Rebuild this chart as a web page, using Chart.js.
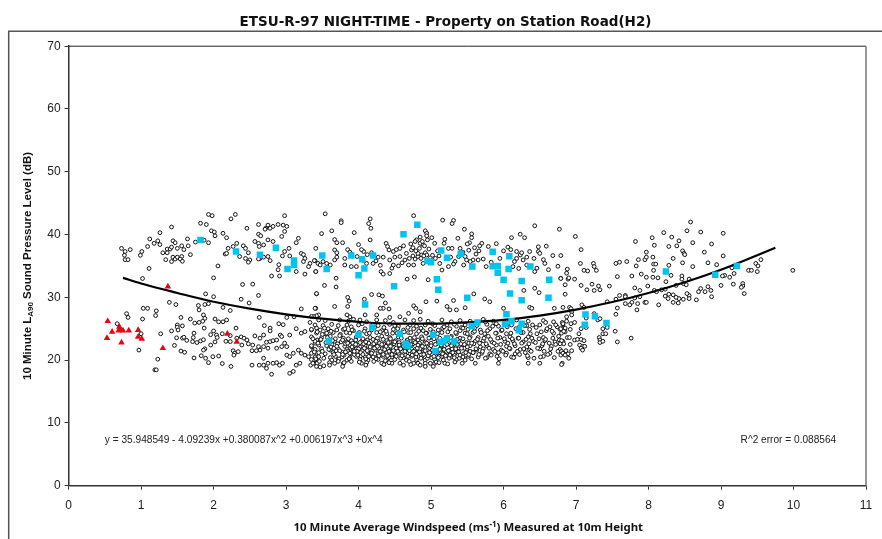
<!DOCTYPE html>
<html>
<head>
<meta charset="utf-8">
<title>ETSU-R-97 Night-time</title>
<script src="https://cdn.jsdelivr.net/npm/chart.js@4"></script>
<style>
  html, body { margin: 0; padding: 0; background: #fff; }
  canvas { display: block; }
</style>
</head>
<body>
<canvas id="nightChart" width="882" height="539"></canvas>
<script>
// ETSU-R-97 night-time scatter - values as [windspeed, level]

const chartTitle = 'ETSU-R-97 NIGHT-TIME - Property on Station Road(H2)';
const fitEquation = 'y = 35.948549 - 4.09239x +0.380087x^2 +0.006197x^3 +0x^4';
const fitError = 'R^2 error = 0.088564';
const xTicks = [0, 1, 2, 3, 4, 5, 6, 7, 8, 9, 10, 11];
const yTicks = [0, 10, 20, 30, 40, 50, 60, 70];

// Upper band, left part
const upperLeftPoints = [
  [.73,37.8],[.78,37.3],[.85,37.6],[.77,36.7],[.78,36],[.82,36],[.99,36.7],[1.01,37.3],[1.09,38.1],[1.12,39.3],
  [1.18,38.6],[1.23,39],[1.26,40.3],[1.26,38.4],[1.42,41.2],[1.3,37.1],[1.36,37.7],[1.4,37.7],[1.36,37.1],[1.42,38],
  [1.44,39],[1.47,38.7],[1.5,37.8],[1.44,36.4],[1.34,36],[1.42,35.7],[1.47,36.1],[1.5,36.4],[1.56,36.5],[1.54,36.1],
  [1.57,35.75],[1.56,38.2],[1.59,37.6],[1.65,38.2],[1.64,39.3],[1.68,36.8],[1.75,38.8],[1.82,41.8],[1.9,41.6],[1.93,43.2],
  [1.98,43],[1.87,39.1],[1.93,38.7],[1.97,40.6],[2.01,40.4],[2.13,40.2],[2.18,39.5],[2.02,39.8],[2.2,37.8],[2.32,38.6],
  [2.16,36.9],[2.18,37],[2.27,38.1],[2.41,38.2],[2.44,37.8],[2.36,36.5],[2.44,36.2],[2.48,37.1],[2.5,35.96],[2.46,41],
  [2.24,42.5],[2.3,43.2],[2.62,41.6],[2.57,38.9],[2.62,40.05],[2.65,39.8],[2.62,38.6],[2.63,38.1],[2.69,38.35],[2.75,41.5],
  [2.72,41],[2.71,40.85],[2.78,41],[2.82,41.3],[2.89,41.6],[2.96,41.5],[3.01,41.3],[2.98,43],[2.98,40.5],[2.94,39.7],
  [2.75,39.15],[2.82,38.9],[3.17,39.4],[3.14,38.7],[3.04,37.8],[2.98,37.3],[2.95,36.6],[3.05,36.6],[3.21,37],[3.24,36.8],
  [3.26,36.2],[3.24,35.7],[3.33,35.4],[3.31,34.9],[3.4,35.85],[3.44,35.4],[2.9,35.2],[2.89,34.4],[2.8,33.4],[2.91,33.4],
  [3.14,34.1],[3.26,33.7],[3.41,34.1],[2.64,36.2],[2.69,36.4],[2.62,36.1],[2.75,36.5],[2.78,35.85],[2.48,35.6],[2.06,35],
  [2,33.1],[1.11,34.6],[1.02,33]
];

// Lower band, left part
const lowerLeftPoints = [
  [2.4,32.05],[2.54,32.1],[1.89,30.55],[2,30.1],[2.38,29.7],[2.62,30.3],[2.49,29.1],[2.13,28.4],[2.23,27.9],[1.39,29.2],
  [1.48,28.85],[1.79,28.7],[1.88,28.85],[1.93,29],[1.8,28],[1.03,28.25],[1.09,28.25],[1.21,27.85],[1.2,27.1],[.8,27.4],
  [.82,26.8],[1.02,26.55],[1.55,26.8],[1.68,26.55],[1.74,25.9],[1.8,26],[1.86,27.2],[1.88,26.65],[1.85,26.2],[2.02,26.55],
  [2.07,26.1],[2.13,26.1],[2.18,26.4],[2.63,26.8],[3.21,28.15],[3.41,28.25],[3.01,26.8],[3.11,26.9],[3.33,26],[3.42,30.55],
  [3.45,27.2],[.67,25.8],[1.5,25.6],[1.5,25.25],[1.57,25.45],[1.51,24.8],[1.42,24.65],[1.87,25.1],[2.31,25.1],[2.7,25.5],
  [2.78,25.1],[2.78,24.65],[2.9,25.8],[2.96,25.65],[2.92,24],[1.27,24.2],[1.73,24.3],[1,24.2],[1.49,23.55],[1.57,23.5],
  [1.59,23.65],[1.63,23.15],[1.72,23.6],[1.71,22.95],[1.77,22.8],[1.82,23.05],[1.86,23.25],[1.96,24.05],[2,24.65],[2.04,24],
  [2.05,23.6],[2.12,24.2],[2.23,23.9],[2.23,22.95],[2.17,23],[2.02,22.9],[1.96,22.4],[2.38,23.7],[2.42,23.5],[2.46,23.2],
  [2.32,23.5],[2.48,22.6],[2.54,22.4],[2.57,23.85],[2.64,23.5],[2.69,24],[2.73,22.85],[2.78,22.95],[2.82,23.1],[2.87,23.2],
  [2.94,23.75],[2.98,22.7],[3.05,24],[3.14,25],[3.21,24.3],[3.26,24.55],[3.35,24.8],[3.42,25.1],[.97,21.6],[1.46,22.35],
  [1.55,21.45],[1.6,21.25],[1.88,21.8],[1.86,21.6],[1.83,20.7],[1.89,20.3],[1.93,19.6],[1.73,20.35],[1.99,20.55],[2.07,20.65],
  [2.12,19.45],[2.24,19],[2.27,21.5],[2.29,21.1],[2.34,21.35],[2.28,20.8],[2.53,21.5],[2.53,19.2],[2.62,22.15],[2.64,21.6],
  [2.69,20.3],[2.63,19.2],[2.69,19.2],[2.75,19.5],[2.8,17.75],[2.73,18.7],[2.87,19.6],[2.91,19.2],[2.95,19.5],[2.82,19.5],
  [3.01,20.8],[3.05,20.55],[3.1,21.1],[3.17,21.6],[3.21,21.1],[3.26,20.8],[3.31,20.55],[3.35,22.15],[3.4,22.7],[3.43,23.2],
  [3.38,21.6],[3.42,21.1],[3.4,19.5],[3.45,20.55],[3.34,19.2],[3.19,19.5],[3.1,18.2],[3.05,17.9],[3.14,19.2],[1.23,20.15],
  [1.19,18.45],[1.21,18.45],[2.75,21.9],[2.87,21.9],[2.94,22.15],[3.01,22.15],[2.59,21.5],[2.39,22.4],[2.69,22.15]
];

// Upper band, middle part
const upperMiddlePoints = [
  [3.54,43.3],[3.76,42.2],[3.76,41.9],[3.63,40.6],[3.49,40.15],[3.94,40.3],[4.16,42.5],[4.14,41.75],[4.17,41],[4.16,39.15],
  [3.67,39.2],[3.7,38.7],[3.78,38.7],[4,38.4],[3.41,37.8],[3.67,37.55],[3.7,37.1],[3.85,37.6],[3.88,37.2],[4.07,37.3],
  [4.76,43],[5.16,42.3],[5.31,42.25],[5.29,41.75],[5.46,40.85],[5.56,40.1],[5.56,39.5],[5.53,38.7],[5.5,38.5],[5.37,39.4],
  [5.19,39.25],[5.18,38.6],[4.92,40.6],[4.94,40.2],[4.94,39.8],[4.85,39.6],[4.8,39.15],[4.85,38.6],[4.78,38.9],[5.01,39.5],
  [4.95,39.15],[6.11,39.5],[6.23,40.05],[6.29,39.5],[6.43,41.4],[6.77,40.85],[6.59,38.15],[6.48,38.05],[5.9,38.55],[5.79,38.1],
  [5.7,38.6],[5.67,38.2],[4.38,38.6],[4.4,38.1],[4.42,37.55],[4.48,37.3],[4.57,37.8],[4.62,38.2],[4.73,37.55],[4.89,38.35],
  [4.92,37.1],[4.87,36.75],[4.82,36.5],[4.94,36.75],[4.82,37],[5.05,38.6],[5.24,37.8],[5.29,37.8],[5.38,36.5],[5.47,36.5],
  [5.49,35.95],[6.18,37.3],[6.23,36.75],[6.18,36.2],[6.27,35.95],[6.36,37.3],[6.48,37.3],[6.5,37],[6.32,35.15],[6.68,36.65],
  [6.79,36.65],[6.57,35.4],[6.75,34.95],[6.46,34.65],[6.43,34.1],[6.13,34.9],[5.76,34.9],[5.65,35.95],[5.58,35.95],[5.54,35.7],
  [5.45,35.15],[5.33,35.7],[5.24,34.9],[5.12,35.4],[5.15,34.35],[4.89,35.4],[4.76,35.15],[4.69,35.15],[4.64,35.95],[4.57,36.5],
  [4.5,36.4],[4.43,35.95],[4.34,36.4],[4.27,36.4],[4.2,35.4],[4.11,35.4],[3.97,34.9],[3.9,34.9],[3.81,35.15],[3.81,36.2],
  [3.7,36.4],[3.56,35.4],[3.51,35.7],[3.47,35.15],[3.39,35.85],[3.41,34.1],[3.61,35.15],[3.67,35.95],[4.31,34.1],[4.34,33.7],
  [4.43,33.8],[4.46,34.65],[4.48,35.15],[4.96,32.8],[4.67,32.9],[4.77,33.25],[3.69,33.05],[3.53,31.9],[3.69,31.65],[3.42,30.6],
  [3.85,30],[3.87,29.4],[3.85,28.55],[3.67,28.55],[3.4,28.25],[4.18,30.45],[4.28,30.4],[4.33,30.2],[4.37,29.1],[4.34,28.25],
  [4.42,28.15],[4.3,28.25],[4.08,29.7],[5.08,29.4],[4.93,29.3],[5.31,29.5],[5.59,30.55],[5.74,29.75],[5.81,29.3],[6.28,31.1],
  [6.43,31.45],[6.49,30.75],[6.36,28.4],[6.39,28.25],[6.7,28.25],[6.91,28.4],[6.79,33.05],[6.89,32.9],[6.87,33.85],[6,28.25],
  [5.22,28.55],[5.26,28],[5.35,28],[5.47,28.35],[4.76,28.65],[4.79,28.25],[4.85,27.7],[4.69,27.45],[4.57,26.9],[4.43,26.8],
  [4.25,27.2],[4.09,27.2],[3.88,26.9],[3.84,27.2],[3.42,27.05],[3.38,26.95],[3.35,26.95],
  [4.72,38.5],[4.75,37.9],[4.79,37.4],[4.84,37.8],[4.88,38.9],[4.91,38.2],[4.97,37.7],[4.99,36.3],[4.86,36.2],[4.9,36.6],[4.96,35.9],[5.02,36.7],
  [5.06,36.2],[5.09,37.4],[5.11,36.6],[4.78,36.1],[4.75,36.6],[4.7,36.2],[4.66,37],[4.6,35.5],[4.55,35],[4.52,37.6],[5.27,36.4],[5.31,35.3],
  [5.62,36.9],[5.72,36.1],[5.83,35.6],[5.95,36.2],[6,37.4],[6.06,38],[6.1,37.6],[6.15,35.7],[6.21,34.6],[6.25,37.1],[6.32,36.4],[6.42,36.2],[6.55,36],[6.62,34.4],
  [3.9,36.9],[3.98,36.5],[4.04,37.6],[4.12,36.8],[4.18,37.1],[4.24,35.8],[4.3,35.1],[4.06,35.9],[5.4,37.8],[5.44,37.2],[5.52,37.5],[5.6,37.9],[5.66,37.4]
];

// Dense lower band under the fit line
const denseBandPoints = [
  [3.45,26.4],[3.54,26.3],[3.74,26.4],[3.86,26.2],[3.93,26.5],[4.02,26.4],[4.11,26.1],[4.25,26.4],[4.37,26.3],[4.48,26],[4.64,26.4],[4.76,26.3],[4.85,26.5],[4.96,26.2],[5.15,26.4],[5.28,26.1],[5.4,26.3],[5.54,26.2],[5.72,26.5],[5.86,26.2],[6.18,26.4],[6.34,26.2],[6.55,26.3],[6.69,26.1],[6.87,26.2],
  [3.4,25.6],[3.51,25.5],[3.63,25.7],[3.72,25.5],[3.84,25.6],[3.9,25.3],[4,25.6],[4.27,25.5],[4.43,25.7],[4.55,25.4],[4.71,25.6],[4.8,25.4],[4.92,25.6],[5.05,25.5],[5.22,25.6],[5.35,25.4],[5.47,25.6],[5.63,25.5],[5.77,25.7],[5.93,25.4],[6.11,25.6],[6.32,25.5],[6.5,25.6],[6.64,25.3],[6.82,25.6],
  [3.35,24.9],[3.47,24.8],[3.58,25],[3.7,24.8],[3.79,24.9],[3.93,24.7],[4.09,25],[4.18,24.8],[4.32,24.7],[4.48,24.9],[4.62,24.8],[4.76,25],[4.89,24.7],[4.99,24.9],[5.1,24.8],[5.26,25],[5.4,24.7],[5.51,24.9],[5.68,24.8],[5.81,25],[5.97,24.7],[6.36,24.9],[6.59,24.7],[6.78,24.9],
  [3.42,24.3],[3.54,24.2],[3.65,24.4],[3.88,24.3],[4.11,24.2],[4.25,24.4],[4.39,24.2],[4.53,24.3],[4.69,24.4],[4.8,24.2],[4.94,24.3],[5.15,24.4],[5.35,24.2],[5.47,24.3],[5.58,24.4],[5.74,24.2],[5.9,24.3],[6.04,24.2],[6.27,24.4],[6.46,24.2],[6.69,24.3],
  [3.35,23.7],[3.49,23.6],[3.61,23.8],[3.79,23.5],[3.97,23.7],[4.16,23.6],[4.32,23.8],[4.43,23.6],[4.55,23.7],[4.71,23.5],[4.87,23.7],[4.99,23.6],[5.28,23.8],[5.4,23.5],[5.54,23.7],[5.65,23.6],[5.79,23.8],[5.95,23.6],[6.09,23.7],[6.2,23.5],[6.34,23.7],[6.55,23.6],[6.76,23.8],
  [3.4,23],[3.47,23.2],[3.67,23],[3.84,22.9],[3.9,23.1],[4.04,23],[4.11,22.8],[4.27,23],[4.39,23.1],[4.48,22.9],[4.76,23],[4.82,23.2],[4.92,22.9],[5.1,23.1],[5.38,23],[5.49,22.8],[5.61,23],[5.72,23.1],[5.84,22.9],[6.02,23],[6.13,23.1],[6.27,22.9],[6.41,23],[6.57,23.1],[6.71,22.9],[6.82,23],
  [3.35,22.3],[3.45,22.4],[3.56,22.3],[3.81,22.2],[3.88,22.4],[3.95,22.3],[4.02,22.1],[4.09,22.3],[4.18,22.4],[4.25,22.2],[4.36,22.3],[4.46,22.4],[4.57,22.2],[4.73,22.3],[4.85,22.4],[4.96,22.1],[5.19,22.3],[5.31,22.4],[5.45,22.2],[5.54,22.3],[5.68,22.1],[5.77,22.3],[5.9,22.4],[6.04,22.2],[6.16,22.3],[6.32,22.1],[6.53,22.3],[6.66,22.2],
  [3.4,21.7],[3.49,21.8],[3.61,21.6],[3.72,21.8],[3.84,21.7],[3.93,21.6],[4,21.8],[4.11,21.7],[4.23,21.6],[4.32,21.8],[4.43,21.7],[4.53,21.6],[4.64,21.8],[4.78,21.7],[4.89,21.6],[4.99,21.8],[5.15,21.7],[5.26,21.6],[5.38,21.8],[5.49,21.7],[5.63,21.6],[5.72,21.8],[5.86,21.7],[5.97,21.6],[6.09,21.8],[6.23,21.7],[6.36,21.6],[6.5,21.8],[6.78,21.7],
  [3.35,21.1],[3.45,21.2],[3.54,21],[3.65,21.2],[3.79,21.1],[3.9,21],[4,21.2],[4.16,21.1],[4.27,21],[4.39,21.2],[4.55,21.1],[4.71,21],[4.82,21.2],[4.94,21.1],[5.1,21],[5.22,21.2],[5.33,21.1],[5.45,21],[5.58,21.2],[5.7,21.1],[5.81,21],[5.93,21.2],[6.04,21.1],[6.16,21],[6.3,21.2],[6.64,21.1],[6.89,21],
  [3.4,20.5],[3.61,20.4],[3.68,20.6],[3.77,20.5],[3.88,20.4],[3.97,20.6],[4.09,20.5],[4.23,20.4],[4.34,20.6],[4.46,20.5],[4.62,20.4],[4.73,20.6],[4.87,20.5],[5.01,20.4],[5.15,20.6],[5.28,20.5],[5.4,20.4],[5.51,20.6],[5.65,20.5],[5.77,20.4],[5.91,20.6],[6.11,20.5],[6.34,20.4],[6.55,20.6],
  [3.35,20.1],[3.63,20],[3.72,20.1],[3.84,20],[4.02,20.1],[4.13,20],[4.27,20.1],[4.39,20],[4.5,20.1],[4.66,20],[4.8,20.1],[4.92,20],[5.05,20.1],[5.17,20],[5.35,20.1],[5.47,20],
  [3.37,19.5],[3.43,19.5],[3.67,19.5],[3.79,19.5],[4.04,19.5],[4.32,19.5],[4.46,19.5],[4.57,19.5],[4.76,19.5],[4.82,19.5],[4.92,19.5],[5.05,19.5],[5.19,19.5],[5.61,19.5],[5.93,19.5],[6.34,19.5],[6.5,19.5],[6.81,19.5],
  [3.42,19],[4.92,19],[5.03,19]
];

// Second pass over the dense band, the darkest part of the cloud
const denseBandExtra = [
  [3.37,23.4],[3.39,21.3],[3.41,20.2],[3.43,24.5],[3.44,22.7],[3.46,19.8],[3.48,23.3],[3.5,21.4],[3.52,20.3],[3.53,25.1],[3.55,22.8],[3.57,23.6],[3.59,21.7],[3.6,19.6],[3.62,24.6],[3.63,22.5],
  [3.66,20.9],[3.68,23.4],[3.69,21.5],[3.71,22.6],[3.73,20.2],[3.75,24.1],[3.76,22.9],[3.77,21.3],[3.78,23.2],[3.8,20.8],[3.82,22.6],[3.83,24.4],[3.85,21.4],[3.86,23.4],[3.87,20.2],[3.89,21.9],
  [3.91,24.8],[3.92,22.7],[3.94,20.9],[3.96,23.2],[3.98,21.4],[3.99,22.5],[4.01,24.4],[4.03,20.7],[4.05,21.5],[4.06,23.4],[4.07,22.6],[4.08,24.6],[4.1,20.2],[4.12,23.2],[4.13,21.3],[4.14,22.7],
  [4.15,24.3],[4.17,20.8],[4.19,21.4],[4.2,23.3],[4.21,22.6],[4.22,25.2],[4.24,20.2],[4.26,23.5],[4.28,21.9],[4.29,22.7],[4.3,24.5],[4.31,20.8],[4.33,21.3],[4.34,23.3],[4.35,22.5],[4.37,19.9],
  [4.38,24.6],[4.4,21.9],[4.41,22.8],[4.42,20.4],[4.44,23.4],[4.45,21.4],[4.47,24.3],[4.49,22.6],[4.5,20.8],[4.51,23.1],[4.52,21.9],[4.54,25],[4.56,22.8],[4.58,20.3],[4.59,23.5],[4.6,21.4],
  [4.61,22.5],[4.63,24.5],[4.65,20.8],[4.67,23.2],[4.68,21.9],[4.69,22.7],[4.7,19.8],[4.72,24.4],[4.74,21.3],[4.75,22.6],[4.77,23.6],[4.79,20.5],[4.81,21.9],[4.83,24.6],[4.84,22.7],[4.86,20.9],
  [4.88,23.4],[4.9,21.4],[4.91,22.6],[4.93,24.3],[4.95,20.3],[4.97,23.5],[4.98,21.9],[5,22.7],[5.02,20.9],[5.03,24.5],[5.04,23.4],[5.06,21.4],[5.07,19.7],[5.08,22.6],[5.09,24.2],[5.11,20.6],
  [5.12,23.5],[5.13,21.9],[5.14,22.7],[5.16,25.1],[5.18,20.9],[5.2,23.3],[5.21,21.4],[5.23,24.5],[5.24,22.7],[5.25,20.3],[5.27,23.6],[5.29,21.8],[5.3,22.6],[5.32,20.8],[5.34,24.4],[5.36,23.3],
  [5.37,21.4],[5.39,20.3],[5.41,22.6],[5.42,25.2],[5.44,23.4],[5.46,21.9],[5.48,20.8],[5.5,24.2],[5.52,22.7],[5.53,23.5],[5.55,21.3],[5.56,20.2],[5.57,25.6],[5.59,22.6],[5.6,24.6],[5.62,21.8],
  [5.64,23.3],[5.66,20.9],[5.67,22.7],[5.69,24.4],[5.71,21.4],[5.73,23.5],[5.75,20.3],[5.76,22.6],[5.78,24.7],[5.8,21.9],[5.82,23.3],[5.83,20.8],[5.85,25.4],[5.87,22.7],[5.88,21.4],[5.89,24.3],
  [5.92,23.5],[5.94,20.2],[5.96,22.5],[5.98,24.8],[5.99,21.4],[6.01,23.4],[6.03,20.8],[6.05,25.3],[6.06,22.7],[6.08,21.9],[6.1,24.3],[6.12,23.4],[6.14,20.4],[6.15,22.6],[6.17,25],[6.19,21.4],
  [6.21,23.5],[6.22,20.9],[6.24,24.4],[6.25,22.7],[6.28,21.8],[6.29,25.5],[6.31,23.3],[6.33,20.7],[6.35,22.6],[6.37,24.2],[6.38,21.4],[6.39,23.5],[6.42,20.3],[6.44,22.8],[6.45,25.2],[6.47,21.9],
  [6.49,23.4],[6.51,20.5],[6.52,24.5],[6.54,22.6],[6.56,21.4],[6.58,23.3],[6.6,25],[6.61,20.9],[6.63,22.7],[6.65,21.8],[6.67,24.6],[6.68,23.5],[6.7,20.4],[6.72,22.5],[6.74,25.3],[6.75,21.4],
  [6.77,23.2],[6.79,20.8],[6.8,24.3],[6.83,22.6],[6.84,25],[6.86,21.5],[6.88,23.6],[3.5,24.1],[3.56,24.3],[3.64,23.1],[3.74,23.9],[3.81,25],[4.05,25.8],[4.2,25.7],[4.35,25.2],[4.5,25.5],
  [4.68,25.2],[4.86,25.1],[5.02,25.8],[5.18,25.3],[5.32,25.7],[5.44,25.1],[5.6,25.1],[5.75,26.1],[5.9,25.8],[6.07,26],[6.22,25.3],[6.4,25.6],[6.58,26],[6.72,25.6],[6.85,24.5],[6.92,24.9]
];

// Third pass, the black core between 3.6 and 5.6 m/s
const denseCorePoints = [
  [3.62,22.1],[3.66,21.9],[3.7,22.2],[3.74,21.5],[3.78,20.9],[3.82,21.3],[3.85,22.7],[3.88,21.1],[3.91,22.1],[3.94,21.4],[3.96,22.5],[3.99,20.8],[4.02,22.8],[4.03,21.2],[4.06,20.9],[4.08,21.9],
  [4.1,22.9],[4.12,21.5],[4.14,20.6],[4.16,22.1],[4.18,21.1],[4.2,20.5],[4.22,21.9],[4.24,23],[4.26,22.2],[4.28,20.7],[4.3,21.4],[4.32,22.5],[4.34,20.9],[4.36,21.7],[4.38,22.2],[4.4,20.7],
  [4.42,21.4],[4.44,22.2],[4.46,20.9],[4.48,21.5],[4.5,22.9],[4.52,20.6],[4.54,21.4],[4.56,22.4],[4.58,21.8],[4.6,20.7],[4.62,22.2],[4.64,21.4],[4.66,22.9],[4.68,20.6],[4.7,21.5],[4.72,22.5],
  [4.74,20.8],[4.76,21.4],[4.78,22.8],[4.8,21],[4.82,22.4],[4.84,21.3],[4.86,20.3],[4.88,22.2],[4.9,20.9],[4.92,21.5],[4.94,22.7],[4.96,20.7],[4.98,21.2],[5,22.3],[5.02,21.6],[5.04,20.6],
  [5.06,22.5],[5.08,21.2],[5.1,20.4],[5.12,21.7],[5.14,22.4],[5.16,21],[5.18,21.7],[5.2,20.7],[5.22,22.5],[5.24,21.5],[5.26,20.8],[5.28,22.3],[5.3,21.2],[5.32,20.4],[5.34,21.8],[5.36,22.5],
  [5.38,21.3],[5.4,20.8],[5.42,21.9],[5.44,20.5],[5.46,22.5],[5.48,21.2],[5.5,22.1],[5.52,20.9],[5.54,21.4],[5.56,22.7],[5.58,21.2],[3.72,19.8],[3.8,19.6],[3.9,19.8],[4.01,19.7],[4.11,19.6],
  [4.21,19.8],[4.35,19.3],[4.42,19.6],[4.62,19.2],[4.72,19.3],[4.85,19.2],[4.99,19.5],[5.11,19.6],[5.23,19.4],[5.33,19.7],[5.43,19.5],[3.6,19.2],[3.78,19],[4.1,19.2],[3.47,18.9],[3.52,19.1]
];

// Right hand part, above 6.8 m/s
const rightPoints = [
  [6.99,39.7],[7.07,37.6],[7.06,35.4],[7.24,35.4],[7.25,34.9],[6.88,34.5],[7.11,34.3],[7.16,34.2],[7.28,34.3],[6.9,33.1],[6.98,32.9],[6.79,33],[7.57,33.3],[7.55,35.4],[7.6,35.6],[7.7,35.7],[7.82,38.9],[8.05,39.5],
  [8.21,40.3],[8.32,39.6],[8.53,40.6],[8.58,42],[8.72,40.4],[9.03,40.2],[8.08,38.3],[8.28,38.1],[8.39,38.2],[8.42,39],[8.61,38.7],[8.87,38.5],[7.97,37.2],[8.06,36.4],[7.86,36],[7.95,36],[7.97,36.4],[8.47,37.4],[8.49,37],[8.5,36.8],[8.77,37.2],[9.03,36.6],[8.34,36.2],[8.47,35.5],[8.82,35.5],[8.94,35.2],
  [7.83,35],[8.07,35.3],[8.1,35.3],[8.28,35.1],[8.61,34.9],[8.07,34.3],[7.9,33.7],[7.77,33.4],[7.97,33.2],[8.06,33.2],[8.13,33.1],[8.31,33.5],[8.46,33.4],[8.46,32.9],[8.56,32.9],[8.24,32.5],[8.48,32.2],[8.52,32],
  [9.15,34.7],[9.18,33.8],[9.48,35.4],[9.55,36],[9.51,35],[9.38,34.3],[9.42,34.3],[9.5,34.1],[9.99,34.3],[9.12,33.2],[9.05,33.5],[9.02,33.4],[9.17,32.1],[9.3,32.2],[9.3,31.8],[9.28,31.6],[9.32,30.6],[9,31.9],[8.82,31.7],[8.72,31.4],[8.69,30.9],[8.78,30.9],[8.86,31.1],[8.87,30.1],
  [8.66,29.6],[8.56,30.3],[8.53,30.6],[8.56,29.8],[8.48,29.7],[8.42,29.8],[8.41,29.1],[8.34,29.2],[8.38,30],[8.34,30.4],[8.28,30.5],[8.23,30.2],[8.27,29.8],[8.14,28.8],[7.95,29.2],[7.97,29.2],[7.85,29],[7.77,29.2],[7.74,28.8],[7.68,29],[7.84,28],[7.88,30.1],[7.81,29.9],[7.68,30.3],
  [7.68,30.1],[7.6,30.3],[7.55,29.7],[7.43,29.3],[7.81,31.5],[7.88,31.1],[7.99,31.8],[8.08,31.1],[8.11,30.9],[8.18,31.2],[8.23,31.3],[8.38,31.9],[7.22,32.1],[7.07,31.9],[6.85,32],[7.15,31.2],[7.25,31.1],[7.31,31.8],[7.33,31.2],[7.46,31.8],[6.85,30.5],[7.08,28.8],[7.11,28.4],[6.82,28.4],
  [6.93,28.2],[6.94,27.7],[6.87,26.9],[6.94,27.2],[7.57,28.3],[7.55,27.3],[7.25,27.4],[7.3,26.4],[7.33,26.6],[7.14,26.7],[6.98,26],[6.93,25.8],[6.81,26],[6.82,25.8],[6.85,25.1],[6.79,25],[6.83,24.6],[7.07,25],[7.14,25.2],[7.43,25.2],[7.37,25],[7.37,24.2],[7.41,24.2],
  [7.54,24.6],[7.04,24.2],[7.32,23.6],[7.33,23.2],[7.33,22.8],[7.37,23],[7.57,22.9],[7.76,23.5],[6.91,23.6],[6.98,23.2],[7.02,23.3],[7.07,23.3],[7.11,23.1],[6.8,23.1],[6.78,22.6],[6.92,22.5],[7.05,22.4],[7.09,22.2],[7.12,22.2],[7.07,21.9],[7.09,21.6],[6.94,21.5],[6.8,21.4],[6.82,21.1],[6.85,20.8],[6.9,20.3],[6.8,19.3]
];

const redTriangles = [
  [.54,26.2],[.6,24.5],[.53,23.5],[.7,25.3],[.71,24.9],[.69,24.7],[.75,24.7],[.83,24.7],[.73,22.8],[.96,24.8],[.96,23.7],[1.01,23.4],[1.3,21.9],[1.37,31.7],[2.19,24.2],[2.32,22.9]
];

const cyanSquares = [
  [1.82,39.15],[2.31,37.3],[2.64,36.8],[2.86,37.9],[3.11,35.85],[3.11,35.15],[3.02,34.5],
  [3.5,36.65],[3.56,34.5],[3.9,36.65],[4.05,36.05],[4.2,36.65],[4.08,34.6],[4,33.5],[4.62,40.05],[4.81,41.55],[5.14,37.45],[4.95,35.8],[5,35.6],[5.22,36.3],[5.41,36.95],[5.85,37.25],[6.08,36.55],[5.57,34.9],[5.85,34.95],[5.92,35],[6.07,34.5],[6.37,34.9],[5.92,33.9],[5.08,32.9],[6,32.8],[6.25,32.6],[6.63,32.8],[4.49,31.75],[5.1,31.2],[6.09,30.6],[5.5,29.95],[6.25,29.55],[6.62,29.95],[4.09,28.85],[6.04,27.3],[5.64,26],[5.56,25.45],[6.11,26.2],[6.02,25.7],[6.25,25.8],[6.21,24.75],[4.19,25.2],[4,24.05],[4.57,24.2],[5.03,24.05],[3.59,23.05],[4.65,22.6],[4.68,22.25],[5.13,22.9],[5.18,23.05],[5.22,23.5],[5.32,22.95],[5.06,21.45],
  [7.13,27.25],[7.26,27],[7.42,25.9],[7.12,25.65],[8.24,34.1],[8.92,33.6],[9.22,35]
];

const fitX = [.75, 1, 1.5, 2, 2.5, 3, 3.5, 4, 4.5, 5, 5.5, 6, 6.5, 7, 7.5, 8, 8.5, 9, 9.5, 9.75];
const fitY = [33.1, 32.2, 30.7, 29.3, 28.2, 27.3, 26.6, 26.1, 25.8, 25.8, 26, 26.4, 27.1, 28.05, 29.25, 30.7, 32.4, 34.4, 36.7, 37.9];

const openPoints = [upperLeftPoints, lowerLeftPoints, upperMiddlePoints, denseBandPoints, denseBandExtra, denseCorePoints, rightPoints].flat();

function toXY(pairs) {
    return pairs.map(p => ({ x: p[0], y: p[1] }));
}

// Draws a run of text pieces, some of them lowered or raised, centred on 0,0
function drawRuns(ctx, runs) {
    let total = 0;
    runs.forEach(r => {
        ctx.font = r.font;
        total += ctx.measureText(r.text).width;
    });
    let pos = -total / 2;
    runs.forEach(r => {
        ctx.font = r.font;
        ctx.fillText(r.text, pos, r.shift || 0);
        pos += ctx.measureText(r.text).width;
    });
}

const framePlugin = {
    id: 'frame',
    beforeDatasetsDraw(chart) {
        const ctx = chart.ctx;
        const a = chart.chartArea;
        ctx.save();
        // page frame, runs off the picture
        ctx.strokeStyle = '#555';
        ctx.lineWidth = 1.5;
        ctx.beginPath();
        ctx.moveTo(8.7, 539);
        ctx.lineTo(8.7, 31.2);
        ctx.lineTo(882, 31.2);
        ctx.stroke();
        // top and right of the plot box
        ctx.strokeStyle = '#222';
        ctx.lineWidth = 1;
        ctx.beginPath();
        ctx.moveTo(a.left, a.top);
        ctx.lineTo(a.right, a.top);
        ctx.stroke();
        ctx.strokeStyle = '#777';
        ctx.lineWidth = 1.5;
        ctx.beginPath();
        ctx.moveTo(a.right, a.top);
        ctx.lineTo(a.right, a.bottom);
        ctx.stroke();
        ctx.restore();
    },
    afterDraw(chart) {
        const ctx = chart.ctx;
        const a = chart.chartArea;
        const xs = chart.scales.x;
        const ys = chart.scales.y;
        const bold = 'bold 11.4px "Noto Sans"';
        const small = 'bold 8px "Noto Sans"';
        ctx.save();
        ctx.fillStyle = '#111';
        ctx.textAlign = 'left';
        ctx.textBaseline = 'alphabetic';

        // Axis titles
        ctx.save();
        ctx.translate((a.left + a.right) / 2 + 1, 531);
        drawRuns(ctx, [
            { text: '10 Minute Average Windspeed (ms', font: bold },
            { text: '-1', font: small, shift: -4 },
            { text: ') Measured at 10m Height', font: bold }
        ]);
        ctx.restore();

        ctx.save();
        ctx.translate(31, (a.top + a.bottom) / 2);
        ctx.rotate(-Math.PI / 2);
        const yBold = 'bold 11.5px "Liberation Sans"';
        drawRuns(ctx, [
            { text: '10 Minute L', font: yBold },
            { text: 'A90', font: 'bold 8px "Liberation Sans"', shift: 2 },
            { text: ' Sound Pressure Level (dB)', font: yBold }
        ]);
        ctx.restore();

        // Fit annotations sit in data space
        ctx.font = '10.15px "Liberation Sans"';
        ctx.fillStyle = '#222';
        ctx.fillText(fitEquation, xs.getPixelForValue(0.5), ys.getPixelForValue(6.8));
        ctx.fillText(fitError, xs.getPixelForValue(9.27), ys.getPixelForValue(6.8));
        ctx.restore();
    }
};

new Chart(document.getElementById('nightChart'), {
    data: {
        datasets: [
            {
                type: 'scatter',
                label: 'Night-time levels',
                data: toXY(openPoints),
                pointStyle: 'circle',
                pointRadius: 1.9,
                pointBorderWidth: 1,
                pointBorderColor: '#111',
                pointBackgroundColor: '#fff',
                order: 3
            },
            {
                type: 'line',
                label: 'Fit',
                data: fitX.map((x, i) => ({ x: x, y: fitY[i] })),
                borderColor: '#000',
                borderWidth: 2.2,
                pointRadius: 0,
                tension: 0.4,
                cubicInterpolationMode: 'monotone',
                fill: false,
                order: 2
            },
            {
                type: 'scatter',
                label: 'Rain',
                data: toXY(redTriangles),
                pointStyle: 'triangle',
                pointRadius: 3.8,
                pointBorderWidth: 0,
                pointBackgroundColor: '#e30613',
                order: 1
            },
            {
                type: 'scatter',
                label: 'Other',
                data: toXY(cyanSquares),
                pointStyle: 'rect',
                pointRadius: 4.6,
                pointBorderWidth: 0,
                pointBackgroundColor: '#00c3f0',
                order: 0
            }
        ]
    },
    options: {
        responsive: false,
        animation: false,
        layout: { padding: { left: 25, right: 16, top: 0, bottom: 0 } },
        plugins: {
            legend: { display: false },
            tooltip: { enabled: false },
            title: {
                display: true,
                text: chartTitle,
                color: '#111',
                font: { family: '"DejaVu Sans"', size: 13.5, weight: 'bold' },
                padding: { top: 14, bottom: 16 }
            }
        },
        scales: {
            x: {
                type: 'linear',
                min: 0,
                max: 11,
                afterFit: s => { s.height = 53.3; },
                afterBuildTicks: s => { s.ticks = xTicks.map(v => ({ value: v })); },
                border: { color: '#333', width: 1.5 },
                grid: { drawOnChartArea: false, tickLength: 4, tickColor: '#333' },
                ticks: {
                    color: '#222',
                    padding: 9,
                    maxRotation: 0,
                    font: { family: '"Liberation Sans"', size: 12 }
                }
            },
            y: {
                type: 'linear',
                min: 0,
                max: 70,
                afterFit: s => { s.width = 43.6; },
                afterBuildTicks: s => { s.ticks = yTicks.map(v => ({ value: v })); },
                border: { color: '#333', width: 1.5 },
                grid: { drawOnChartArea: false, tickLength: 4, tickColor: '#333' },
                ticks: {
                    color: '#222',
                    padding: 4,
                    font: { family: '"Liberation Sans"', size: 12 }
                }
            }
        }
    },
    plugins: [framePlugin]
});
</script>
</body>
</html>
